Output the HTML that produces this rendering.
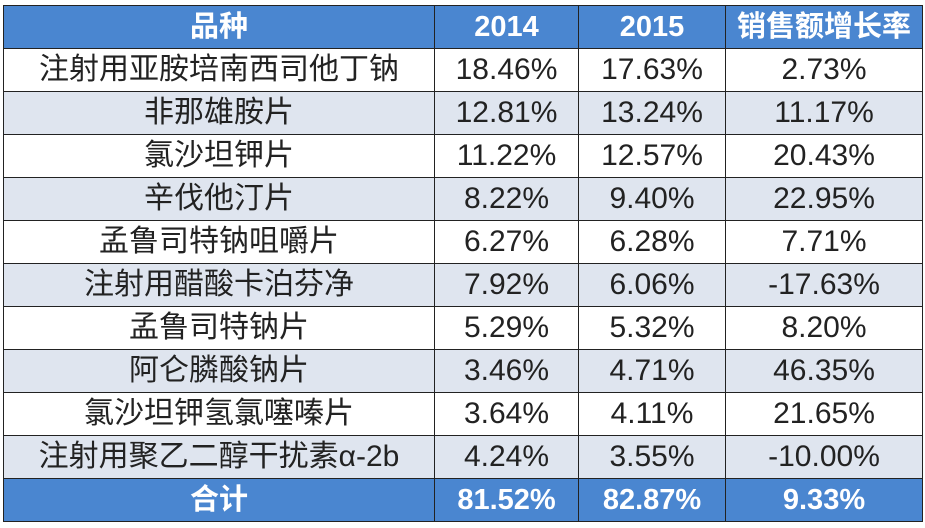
<!DOCTYPE html>
<html><head><meta charset="utf-8"><style>
body{margin:0;width:925px;height:528px;background:#fff;overflow:hidden;font-family:"Liberation Sans","Noto Sans CJK SC",sans-serif}
table{position:absolute;left:3px;top:5px;border-collapse:collapse;table-layout:fixed}
td{border:1.5px solid #222;text-align:center;font-size:30px;color:#222;padding:0;height:42px;line-height:40px;white-space:nowrap;overflow:hidden}
tr.h td,tr.f td{background:#4a86d0;color:#fff;font-weight:bold;font-size:29px}
tr.alt td{background:#dfe5ef}
</style></head><body>
<table>
<colgroup><col style="width:431px"><col style="width:144px"><col style="width:147px"><col style="width:197px"></colgroup>
<tr class="h"><td>品种</td><td>2014</td><td>2015</td><td>销售额增长率</td></tr>
<tr><td>注射用亚胺培南西司他丁钠</td><td>18.46%</td><td>17.63%</td><td>2.73%</td></tr>
<tr class="alt"><td>非那雄胺片</td><td>12.81%</td><td>13.24%</td><td>11.17%</td></tr>
<tr><td>氯沙坦钾片</td><td>11.22%</td><td>12.57%</td><td>20.43%</td></tr>
<tr class="alt"><td>辛伐他汀片</td><td>8.22%</td><td>9.40%</td><td>22.95%</td></tr>
<tr><td>孟鲁司特钠咀嚼片</td><td>6.27%</td><td>6.28%</td><td>7.71%</td></tr>
<tr class="alt"><td>注射用醋酸卡泊芬净</td><td>7.92%</td><td>6.06%</td><td>-17.63%</td></tr>
<tr><td>孟鲁司特钠片</td><td>5.29%</td><td>5.32%</td><td>8.20%</td></tr>
<tr class="alt"><td>阿仑膦酸钠片</td><td>3.46%</td><td>4.71%</td><td>46.35%</td></tr>
<tr><td>氯沙坦钾氢氯噻嗪片</td><td>3.64%</td><td>4.11%</td><td>21.65%</td></tr>
<tr class="alt"><td>注射用聚乙二醇干扰素α-2b</td><td>4.24%</td><td>3.55%</td><td>-10.00%</td></tr>
<tr class="f"><td>合计</td><td>81.52%</td><td>82.87%</td><td>9.33%</td></tr>
</table>
</body></html>
